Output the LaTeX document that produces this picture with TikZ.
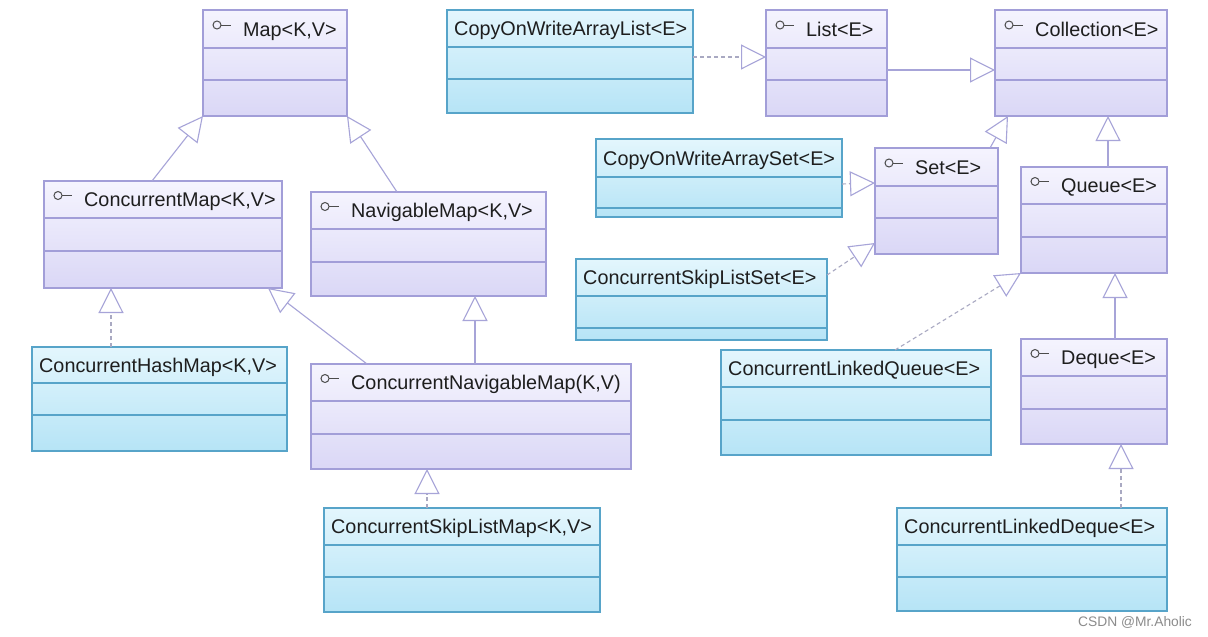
\documentclass[tikz,border=0pt]{standalone}
\usepackage{fontspec}
\setmainfont{Liberation Sans}
\usetikzlibrary{arrows.meta,calc}
\definecolor{ifborder}{HTML}{A29ED8}
\definecolor{iftop}{HTML}{F5F4FE}
\definecolor{ifbot}{HTML}{DAD7F6}
\definecolor{clborder}{HTML}{57A4C9}
\definecolor{cltop}{HTML}{E3F6FD}
\definecolor{clbot}{HTML}{B6E4F6}
\definecolor{solidc}{HTML}{A7A4D8}
\definecolor{dashc}{HTML}{A9A9C2}
\definecolor{txt}{HTML}{1E1E1E}
\tikzset{
  iface/.style={draw=ifborder, line width=1.1pt, top color=iftop, bottom color=ifbot, inner sep=0pt, outer sep=0pt},
  cls/.style={draw=clborder, line width=1.1pt, top color=cltop, bottom color=clbot, inner sep=0pt, outer sep=0pt},
  iface sep/.style={draw=ifborder, line width=1.1pt},
  cls sep/.style={draw=clborder, line width=1.1pt},
  icon/.style={draw=black!70, line width=1pt},
  label/.style={anchor=base west, inner sep=0pt, text=txt, font=\fontsize{19.8}{23}\selectfont},
  gen/.style={draw=solidc, line width=1.1pt, -{Triangle[open, length=25pt, width=25pt, line width=1.1pt]}},
  real/.style={draw=dashc, line width=1.1pt, dash pattern=on 4pt off 3pt, -{Triangle[open, length=25pt, width=25pt, line width=1.1pt, color=solidc]}}
}
\def\kindiface{iface}
% #1 name, #2 left, #3 top, #4 right, #5 bottom, #6 line1, #7 line2, #8 kind, #9 text
\newcommand\umlbox[9]{%
  \node[#8, anchor=north west, minimum width={#4-#2}, minimum height={#5-#3}] (#1) at (#2,#3) {};
  \draw[#8 sep] (#2,#6) -- (#4,#6);
  \draw[#8 sep] (#2,#7) -- (#4,#7);
  \def\kindtmp{#8}%
  \ifx\kindtmp\kindiface
    \draw[icon] ({#2+14},{(#3+#6)/2-4}) circle[radius=4];
    \draw[icon] ({#2+18},{(#3+#6)/2-4}) -- ({#2+28},{(#3+#6)/2-4});
    \node[label] (#1-t) at ({#2+40},{(#3+#6)/2+7}) {#9};
  \else
    \node[label] (#1-t) at ({#2+7},{(#3+#6)/2+7}) {#9};
  \fi
}
\begin{document}
\begin{tikzpicture}[x=1pt, y=-1pt]
\useasboundingbox[fill=white] (0,0) rectangle (1208,637);

\umlbox{map}{203}{10}{347}{116}{48}{80}{iface}{Map<K,V>}
\umlbox{cowal}{447}{10}{693}{113}{47}{79}{cls}{CopyOnWriteArrayList<E>}
\umlbox{list}{766}{10}{887}{116}{48}{80}{iface}{List<E>}
\umlbox{coll}{995}{10}{1167}{116}{48}{80}{iface}{Collection<E>}
\umlbox{cm}{44}{181}{282}{288}{218}{251}{iface}{ConcurrentMap<K,V>}
\umlbox{nm}{311}{192}{546}{296}{229}{262}{iface}{NavigableMap<K,V>}
\umlbox{cowas}{596}{139}{842}{217}{177}{208}{cls}{CopyOnWriteArraySet<E>}
\umlbox{set}{875}{148}{998}{254}{186}{218}{iface}{Set<E>}
\umlbox{queue}{1021}{167}{1167}{273}{204}{237}{iface}{Queue<E>}
\umlbox{csls}{576}{259}{827}{340}{296}{328}{cls}{ConcurrentSkipListSet<E>}
\umlbox{chm}{32}{347}{287}{451}{383}{415}{cls}{ConcurrentHashMap<K,V>}
\umlbox{cnm}{311}{364}{631}{469}{401}{434}{iface}{ConcurrentNavigableMap(K,V)}
\umlbox{clq}{721}{350}{991}{455}{387}{420}{cls}{ConcurrentLinkedQueue<E>}
\umlbox{deque}{1021}{339}{1167}{444}{376}{409}{iface}{Deque<E>}
\umlbox{cslm}{324}{508}{600}{612}{545}{577}{cls}{ConcurrentSkipListMap<K,V>}
\umlbox{cld}{897}{508}{1167}{611}{545}{577}{cls}{ConcurrentLinkedDeque<E>}

% connectors
\draw[real] ($(cowal.north east)+(0,47)$) -- ($(list.north west)+(0,47)$);
\draw[gen] ($(list.north east)+(0,60)$) -- ($(coll.north west)+(0,60)$);
\draw[gen] ($(cm.north west)+(108,0)$) -- (map.south west);
\draw[gen] ($(nm.north west)+(86,0)$) -- (map.south east);
\draw[real] ($(chm.north west)+(79,0)$) -- ($(cm.south west)+(67,0)$);
\draw[gen] ($(cnm.north west)+(56,0)$) -- ($(cm.south east)+(-14,0)$);
\draw[gen] ($(cnm.north west)+(164,0)$) -- ($(nm.south west)+(164,0)$);
\draw[real] ($(cslm.north west)+(103,0)$) -- ($(cnm.south west)+(116,0)$);
\draw[real] ($(cowas.north east)+(0,45)$) -- ($(set.north west)+(0,35)$);
\draw[real] ($(csls.north east)+(0,16)$) -- ($(set.north west)+(0,95)$);
\draw[gen] ($(set.north west)+(115,0)$) -- ($(coll.south west)+(13,0)$);
\draw[gen] ($(queue.north west)+(87,0)$) -- ($(coll.south west)+(113,0)$);
\draw[real] ($(clq.north west)+(174,0)$) -- (queue.south west);
\draw[gen] ($(deque.north west)+(94,0)$) -- ($(queue.south west)+(94,0)$);
\draw[real] ($(cld.north west)+(224,0)$) -- ($(deque.south west)+(100,0)$);

\node[anchor=base west, inner sep=0pt, text=black!45, font=\fontsize{13.8}{16}\selectfont] (wm) at (1078,626) {CSDN @Mr.Aholic};
\end{tikzpicture}
\end{document}
